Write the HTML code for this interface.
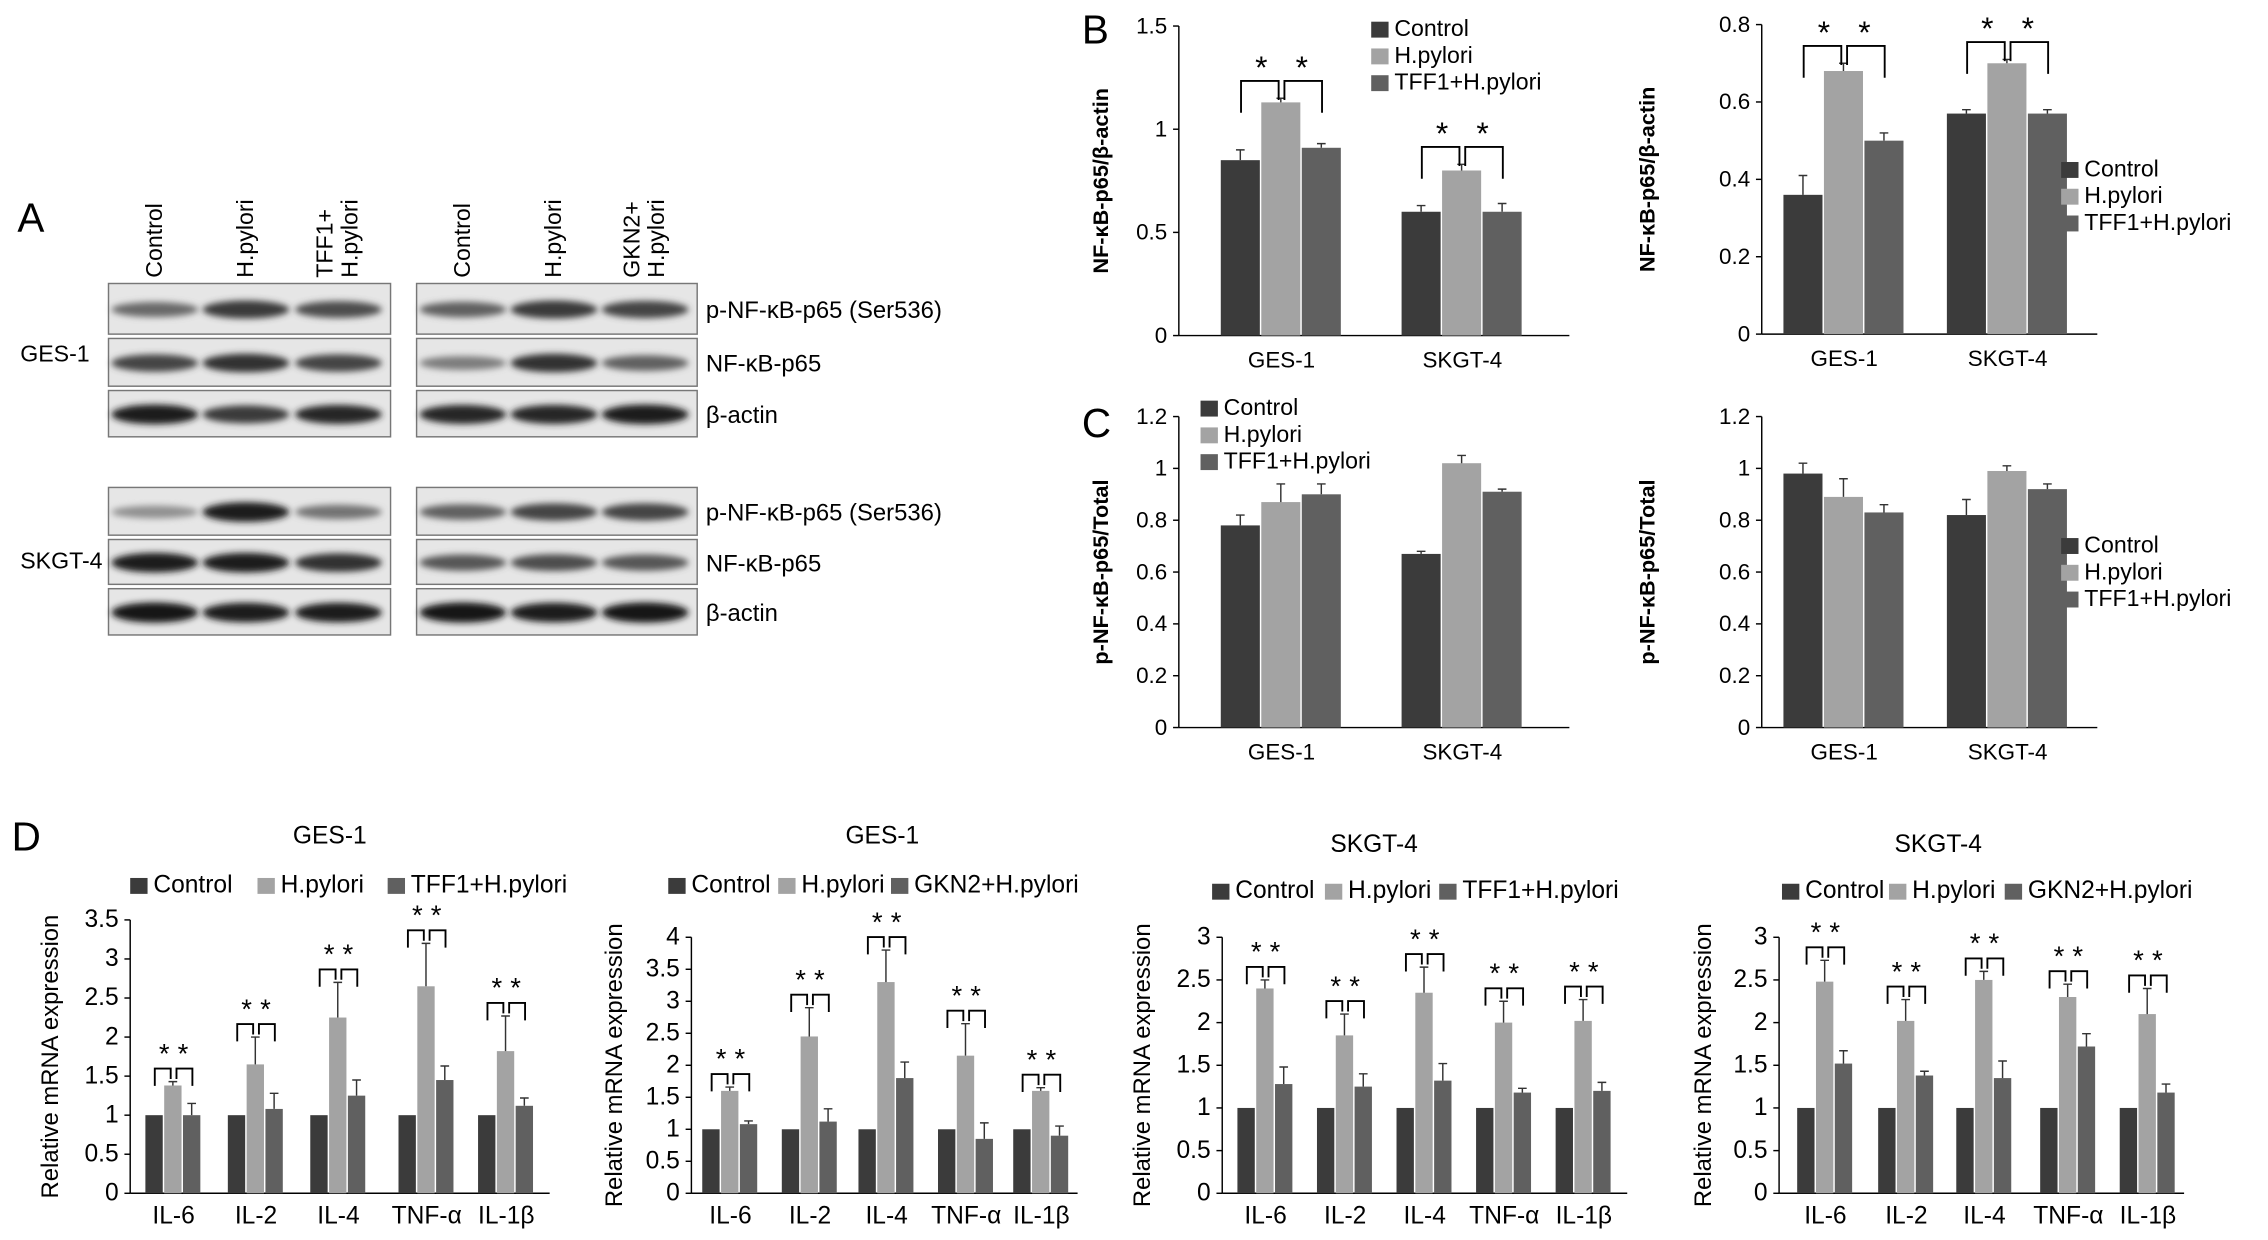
<!DOCTYPE html>
<html><head><meta charset="utf-8">
<style>
html,body{margin:0;padding:0;background:#fff;}
svg{display:block;font-family:"Liberation Sans",Arial,sans-serif;}
</style></head>
<body>
<svg id="fig" width="2268" height="1240" viewBox="0 0 1568 857.3" xmlns="http://www.w3.org/2000/svg">
<defs><filter id="blur" x="-20%" y="-50%" width="140%" height="200%"><feGaussianBlur stdDeviation="2.2"/></filter></defs>
<g id="panelA"></g>
<g id="charts"></g>
</svg>
<script>
// ---------- data ----------
const seriesNames1 = ["Control","H.pylori","TFF1+H.pylori"];
const seriesNames2 = ["Control","H.pylori","GKN2+H.pylori"];
const seriesColors = ["#3b3b3b","#a3a3a3","#606060"];
const groupsBC = ["GES-1","SKGT-4"];
const cytokines = ["IL-6","IL-2","IL-4","TNF-α","IL-1β"];

const bLeftValues = [[0.85,1.13,0.91],[0.60,0.80,0.60]];
const bLeftErrors = [[0.05,0.02,0.02],[0.03,0.03,0.04]];
const bRightValues = [[0.36,0.68,0.50],[0.57,0.70,0.57]];
const bRightErrors = [[0.05,0.02,0.02],[0.01,0.01,0.01]];
const cLeftValues = [[0.78,0.87,0.90],[0.67,1.02,0.91]];
const cLeftErrors = [[0.04,0.07,0.04],[0.01,0.03,0.01]];
const cRightValues = [[0.98,0.89,0.83],[0.82,0.99,0.92]];
const cRightErrors = [[0.04,0.07,0.03],[0.06,0.02,0.02]];

const d1Values = [[1,1.38,1.0],[1,1.65,1.08],[1,2.25,1.25],[1,2.65,1.45],[1,1.82,1.12]];
const d1Errors = [[0,0.05,0.15],[0,0.35,0.2],[0,0.45,0.2],[0,0.55,0.18],[0,0.45,0.1]];
const d2Values = [[1,1.6,1.08],[1,2.45,1.12],[1,3.3,1.8],[1,2.15,0.85],[1,1.6,0.9]];
const d2Errors = [[0,0.06,0.05],[0,0.45,0.2],[0,0.5,0.25],[0,0.5,0.25],[0,0.05,0.15]];
const d3Values = [[1,2.4,1.28],[1,1.85,1.25],[1,2.35,1.32],[1,2.0,1.18],[1,2.02,1.2]];
const d3Errors = [[0,0.1,0.2],[0,0.25,0.15],[0,0.3,0.2],[0,0.25,0.05],[0,0.25,0.1]];
const d4Values = [[1,2.48,1.52],[1,2.02,1.38],[1,2.5,1.35],[1,2.3,1.72],[1,2.1,1.18]];
const d4Errors = [[0,0.25,0.15],[0,0.25,0.05],[0,0.1,0.2],[0,0.15,0.15],[0,0.3,0.1]];

const ticksB1 = [0,0.5,1,1.5];
const ticksB2 = [0,0.2,0.4,0.6,0.8];
const ticksC = [0,0.2,0.4,0.6,0.8,1,1.2];
const ticksD35 = [0,0.5,1,1.5,2,2.5,3,3.5];
const ticksD4 = [0,0.5,1,1.5,2,2.5,3,3.5,4];
const ticksD3 = [0,0.5,1,1.5,2,2.5,3];

// ---------- helpers ----------
const NS="http://www.w3.org/2000/svg";
function mk(tag,attrs,parent,text){const e=document.createElementNS(NS,tag);for(const k in attrs)e.setAttribute(k,attrs[k]);if(text!==undefined)e.textContent=text;parent.appendChild(e);return e;}
const root=document.getElementById('charts');
const A=document.getElementById('panelA');

function chart(cfg){
  const g=mk('g',{},root);
  
  
  const y=v=>cfg.y0-(v/cfg.ymax)*(cfg.y0-cfg.yTop);
  const ya=mk('line',{x1:cfg.x0,y1:cfg.y0,x2:cfg.x0,y2:cfg.yTop,stroke:'#000','stroke-width':1},g);
  
  
  const xa=mk('line',{x1:cfg.x0,y1:cfg.y0,x2:cfg.xEnd,y2:cfg.y0,stroke:'#000','stroke-width':1},g);
  
  
  cfg.ticks.forEach(t=>{
    mk('line',{x1:cfg.x0-4,y1:y(t),x2:cfg.x0,y2:y(t),stroke:'#000','stroke-width':1},g);
    const tl=mk('text',{x:cfg.x0-8,y:y(t)+5,'text-anchor':'end','font-size':cfg.fs},g,String(t));
    
    
  });
  const yt=mk('text',{x:cfg.ytX,y:(cfg.y0+cfg.yTop)/2,'text-anchor':'middle','font-size':cfg.ytFs,'font-weight':cfg.ytBold?'bold':'normal',transform:`rotate(-90 ${cfg.ytX} ${(cfg.y0+cfg.yTop)/2})`},g,cfg.ytitle);
  
  
  if(cfg.title){const tt=mk('text',{x:cfg.titleX,y:cfg.titleY,'text-anchor':'middle','font-size':17},g,cfg.title);
    
    }
  cfg.values.forEach((grp,gi)=>{
    const cx=cfg.centers[gi];
    const cl=mk('text',{x:cx,y:cfg.y0+cfg.catDy,'text-anchor':'middle','font-size':cfg.fs},g,cfg.cats[gi]);
    
    
    const bx=[];
    grp.forEach((v,si)=>{
      const x=cx+(si-1.5)*cfg.bw;
      bx.push(x+cfg.bw/2);
      const r=mk('rect',{x:x,y:y(v),width:cfg.bw-1,height:cfg.y0-y(v),fill:seriesColors[si]},g);
      
      
      const e=cfg.errors[gi][si];
      if(e>0){
        const el=mk('path',{d:`M${x+cfg.bw/2-0.5} ${y(v)} V${y(v+e)} M${x+cfg.bw/2-3.5} ${y(v+e)} H${x+cfg.bw/2+2.5}`,stroke:'#333','stroke-width':1,fill:'none'},g);
        
        
      }
    });
    if(cfg.stars){
      const top=y(grp[1]+cfg.errors[gi][1]);
      const by=top-cfg.gap;
      const legL=Math.min(y(grp[0]+cfg.errors[gi][0])-3,by+cfg.leg);
      const legR=Math.min(y(grp[2]+cfg.errors[gi][2])-3,by+cfg.leg);
      const b1=mk('path',{d:`M${bx[0]} ${legL} V${by} H${bx[1]-2} V${by+cfg.leg*0.6}`,stroke:'#000','stroke-width':1.3,fill:'none'},g);
      
      
      const b2=mk('path',{d:`M${bx[1]+2} ${by+cfg.leg*0.6} V${by} H${bx[2]} V${legR}`,stroke:'#000','stroke-width':1.3,fill:'none'},g);
      
      
      [(bx[0]+bx[1])/2,(bx[1]+bx[2])/2].forEach(sx=>{
        const s=mk('text',{x:sx,y:by-cfg.starDy,'text-anchor':'middle','font-size':cfg.starFs},g,'*');
        
        
      });
    }
  });
  const lg=mk('g',{},g);
  
  
  cfg.series.forEach((n,si)=>{
    let lx,ly;
    if(cfg.legH){lx=cfg.legX[si];ly=cfg.legY;}else{lx=cfg.legX;ly=cfg.legY+si*cfg.legStep;}
    mk('rect',{x:lx,y:ly-10,width:12,height:11,fill:seriesColors[si]},lg);
    const t=mk('text',{x:lx+16,y:ly,'font-size':cfg.legFs},lg,n);
    
    
  });
}

const base={fs:15.5,catDy:22,ytFs:15,ytBold:true,bw:28,gap:12,leg:22,starFs:22,starDy:2,legFs:16,legStep:18.5};
chart(Object.assign({},base,{name:'chart-b-left',x0:815,xEnd:1085,y0:232,yTop:18,ymax:1.5,ticks:ticksB1,centers:[886,1011],cats:groupsBC,values:bLeftValues,errors:bLeftErrors,stars:true,ytitle:'NF-κB-p65/β-actin',ytX:766,series:seriesNames1,legX:948,legY:25}));
chart(Object.assign({},base,{name:'chart-b-right',x0:1218,xEnd:1450,y0:231,yTop:17,ymax:0.8,ticks:ticksB2,centers:[1275,1388],cats:groupsBC,values:bRightValues,errors:bRightErrors,stars:true,ytitle:'NF-κB-p65/β-actin',ytX:1144,series:seriesNames1,legX:1425,legY:122}));
chart(Object.assign({},base,{name:'chart-c-left',x0:815,xEnd:1085,y0:503,yTop:288,ymax:1.2,ticks:ticksC,centers:[886,1011],cats:groupsBC,values:cLeftValues,errors:cLeftErrors,stars:false,ytitle:'p-NF-κB-p65/Total',ytX:766,series:seriesNames1,legX:830,legY:287}));
chart(Object.assign({},base,{name:'chart-c-right',x0:1218,xEnd:1450,y0:503,yTop:288,ymax:1.2,ticks:ticksC,centers:[1275,1388],cats:groupsBC,values:cRightValues,errors:cRightErrors,stars:false,ytitle:'p-NF-κB-p65/Total',ytX:1144,series:seriesNames1,legX:1425,legY:382}));

const dBase={fs:17,catDy:21,ytFs:16.5,ytBold:false,bw:13,gap:9,leg:12,starFs:19,starDy:4,legFs:17,legH:true,stars:true,cats:cytokines};
chart(Object.assign({},dBase,{name:'chart-d-ges1-tff1',title:'GES-1',titleX:228,titleY:583,x0:90,xEnd:380,y0:825,yTop:636,ymax:3.5,ticks:ticksD35,centers:[120,177,234,295,350],values:d1Values,errors:d1Errors,ytitle:'Relative mRNA expression',ytX:40,series:seriesNames1,legX:[90,178,268],legY:617}));
chart(Object.assign({},dBase,{name:'chart-d-ges1-gkn2',title:'GES-1',titleX:610,titleY:583,x0:478,xEnd:745,y0:825,yTop:648,ymax:4,ticks:ticksD4,centers:[505,560,613,668,720],values:d2Values,errors:d2Errors,ytitle:'Relative mRNA expression',ytX:430,series:seriesNames2,legX:[462,538,616],legY:617}));
chart(Object.assign({},dBase,{name:'chart-d-skgt4-tff1',title:'SKGT-4',titleX:950,titleY:589,x0:845,xEnd:1125,y0:825,yTop:648,ymax:3,ticks:ticksD3,centers:[875,930,985,1040,1095],values:d3Values,errors:d3Errors,ytitle:'Relative mRNA expression',ytX:795,series:seriesNames1,legX:[838,916,995],legY:621}));
chart(Object.assign({},dBase,{name:'chart-d-skgt4-gkn2',title:'SKGT-4',titleX:1340,titleY:589,x0:1230,xEnd:1510,y0:825,yTop:648,ymax:3,ticks:ticksD3,centers:[1262,1318,1372,1430,1485],values:d4Values,errors:d4Errors,ytitle:'Relative mRNA expression',ytX:1183,series:seriesNames2,legX:[1232,1306,1386],legY:621}));

[['A',12,160],['B',748,30],['C',748,302],['D',8,588]].forEach(p=>{
  const t=mk('text',{x:p[1],y:p[2],'font-size':28},root,p[0]);
  
  
});

// ---------- Western blot ----------
const laneL=[107,170,234], laneR=[320,383,446];
const boxesL=[75,270], boxesR=[288,482];
const rows=[[196,232],[234,268],[270,303],[337,371],[373,405],[407,440]];
const intens=[
 [[0.55,0.8,0.7],[0.6,0.8,0.75]],[[0.75,0.85,0.75],[0.45,0.85,0.6]],[[0.95,0.8,0.9],[0.9,0.9,0.95]],
 [[0.35,0.95,0.5],[0.6,0.75,0.75]],[[0.95,0.95,0.85],[0.65,0.7,0.65]],[[1,0.95,0.95],[1,0.95,1]]];
rows.forEach((r,ri)=>{
  [[boxesL,laneL,0],[boxesR,laneR,1]].forEach(([bx,lanes,side])=>{
    const rc=mk('rect',{x:bx[0],y:r[0],width:bx[1]-bx[0],height:r[1]-r[0]-1,fill:'#e6e6e6',stroke:'#777','stroke-width':1},A);
    
    
    lanes.forEach((lx,li)=>{
      const k=intens[ri][side][li];
      const c=Math.round(210-190*k);
      const e=mk('ellipse',{cx:lx,cy:(r[0]+r[1])/2,rx:30,ry:3+4*k,fill:`rgb(${c},${c},${c})`,filter:'url(#blur)'},A);
      
      
    });
  });
});
const rowLabels=['p-NF-κB-p65 (Ser536)','NF-κB-p65','β-actin','p-NF-κB-p65 (Ser536)','NF-κB-p65','β-actin'];
rows.forEach((r,i)=>{const t=mk('text',{x:488,y:(r[0]+r[1])/2+6,'font-size':16.5},A,rowLabels[i]);
  
  });
[['GES-1',250],['SKGT-4',393]].forEach(c=>{const t=mk('text',{x:14,y:c[1],'font-size':16},A,c[0]);
  
  });
const colLabels=[['Control'],['H.pylori'],['TFF1+','H.pylori'],['Control'],['H.pylori'],['GKN2+','H.pylori']];
[...laneL,...laneR].forEach((lx,i)=>{
  const lines=colLabels[i];
  lines.forEach((s,j)=>{
    const xx=lx+5-(lines.length-1-j)*17+(lines.length>1?8:0);
    const t=mk('text',{x:xx,y:192,'font-size':16,transform:`rotate(-90 ${xx} 192)`},A,s);
    
    
  });
});
</script>
</body></html>
